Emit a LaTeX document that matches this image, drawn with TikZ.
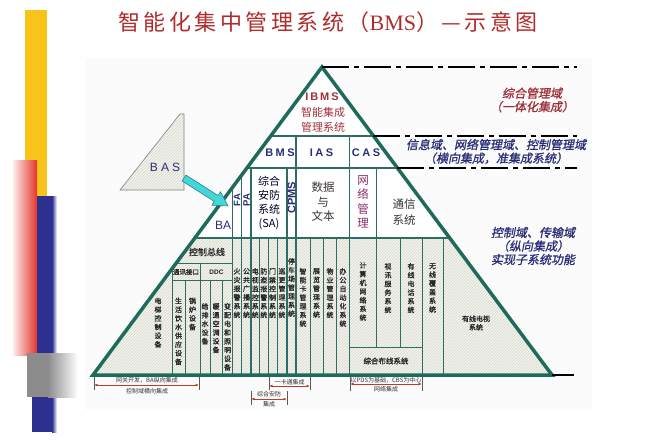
\documentclass[tikz,border=0pt]{standalone}
\usepackage{fontspec}
\setmainfont{Liberation Sans}
\newfontfamily\cjk{Noto Sans CJK SC}
\newfontfamily\cjkbf[FakeBold=1]{Noto Sans CJK SC}
\newfontfamily\cjkit[FakeSlant=0.2,FakeBold=1]{Noto Sans CJK SC}
\newfontfamily\serifL{Liberation Serif}
\usetikzlibrary{arrows.meta,calc,patterns}
\definecolor{pyrc}{HTML}{1E6B5C}
\definecolor{gridc}{HTML}{2E6E62}
\definecolor{txtc}{HTML}{262626}
\definecolor{navyc}{HTML}{2A2D78}
\definecolor{maroonc}{HTML}{A0303A}
\definecolor{titlec}{HTML}{B02C2C}
\definecolor{arrc}{HTML}{C0392B}
\definecolor{yellowc}{HTML}{F8C41A}
\definecolor{redc}{HTML}{E3352B}
\definecolor{bluec}{HTML}{2E3090}
\definecolor{hatchbg}{HTML}{F4F4EE}
\definecolor{hatchc}{HTML}{D6D6CC}
\definecolor{cyanc}{HTML}{46D6D8}
\definecolor{cyandk}{HTML}{1F8A8C}
\definecolor{purplec}{HTML}{8A2E6A}
\newcommand\tsp{\kern3.5pt}
\begin{document}
\begin{tikzpicture}[x=1pt,y=-1pt,
  pyr/.style={draw=pyrc,line width=3.5pt,line join=miter},
  hline/.style={draw=gridc,line width=1.6pt},
  vline/.style={draw=gridc,line width=1.1pt},
  fine/.style={draw=gridc,line width=0.9pt},
  vt/.style={font=\cjkbf\fontsize{7}{8.7}\selectfont,align=center,inner sep=0pt,anchor=north,text=txtc},
  ht/.style={font=\cjkbf\fontsize{7}{8.5}\selectfont,align=center,inner sep=0pt,text=txtc},
  mid/.style={font=\cjk\fontsize{11}{14}\selectfont,align=center,inner sep=0pt},
  lat/.style={font=\bfseries\fontsize{11}{13}\selectfont,inner sep=0pt,text=navyc},
  dom/.style={font=\cjkit\fontsize{12}{13.5}\selectfont,align=center,inner sep=0pt},
  domline/.style={draw=black,line width=1.4pt,dash pattern=on 27pt off 5pt on 5pt off 5pt},
  annot/.style={font=\cjk\fontsize{6}{7}\selectfont,inner sep=0pt,text=black!80},
  dim/.style={draw=arrc,line width=0.6pt,{Latex[length=3.5pt,width=2.6pt]}-{Latex[length=3.5pt,width=2.6pt]}},
  tick/.style={draw=black!65,line width=0.6pt}]
\useasboundingbox (0,0) rectangle (660,439);
\fill[white] (0,0) rectangle (660,439);
\fill[black!1.5] (85,58) rectangle (592,410);
% left decorative bars
\fill[yellowc] (25,10) rectangle (47,196);
\shade[left color=red!8,right color=redc] (13,160) rectangle (37,355);
\fill[bluec] (37,196) rectangle (52,432);
\fill[bluec] (32,397) rectangle (52,432);
\shade[left color=bluec,right color=white] (52,196) rectangle (57,432);
\fill[black!45] (27,353) rectangle (48,397);
\shade[left color=black!45,right color=white] (48,353) rectangle (78,397);
% title
\node[font=\cjk\fontsize{22}{24}\selectfont,text=titlec,inner sep=0pt] (title) at (328,22)
  {智\tsp 能\tsp 化\tsp 集\tsp 中\tsp 管\tsp 理\tsp 系\tsp 统\tsp （{\serifL BMS}）\tsp —\tsp 示\tsp 意\tsp 图};
% pyramid
\coordinate (apex) at (322,67);
\coordinate (bl) at (93,375);
\coordinate (br) at (552,375);
\fill[white] (apex)--(bl)--(br)--cycle;
\begin{scope}
  \clip (apex)--(bl)--(br)--cycle;
  \fill[hatchbg] (80,238) rectangle (600,376);
  \fill[pattern=north east lines,pattern color=hatchc] (80,238) rectangle (600,376);
  \draw[hline] (80,136) -- (600,136);
  \draw[hline] (80,168) -- (600,168);
  \draw[hline] (80,238) -- (600,238);
  \draw[fine] (80,263) -- (233,263);
  \draw[fine] (172,280) -- (233,280);
  \draw[fine] (349.5,347) -- (422,347);
  \draw[vline] (296,136) -- (296,375);
  \draw[vline] (349.5,136) -- (349.5,375);
  \foreach \x in {232.5,241.5,251,287} \draw[vline] (\x,168) -- (\x,375);
  \draw[vline] (376.5,168) -- (376.5,347);
  \foreach \x in {259.5,268,277,310,323,336.5,422,443} \draw[fine] (\x,238) -- (\x,375);
  \draw[fine] (400,238) -- (400,347);
  \draw[fine] (172,255) -- (172,375);
  \draw[fine] (200,263) -- (200,375);
  \foreach \x in {185,210,222} \draw[fine] (\x,280) -- (\x,375);
\end{scope}
\draw[pyr] (apex)--(bl)--(br)--cycle;
% right domain lines
\coordinate (e1) at (577,67);
\coordinate (s2) at (373.4,136);
\coordinate (e2) at (577,136);
\coordinate (s3) at (397.3,168);
\coordinate (e3) at (577,168);
\coordinate (e4) at (574,375);
\draw[domline] (apex) -- (e1);
\draw[domline] (s2) -- (e2);
\draw[domline] (s3) -- (e3);
\draw[black,line width=1.2pt] (br) -- (e4);
% top
\node[font=\bfseries\fontsize{11}{13}\selectfont,text=maroonc,inner sep=0pt] (ibms) at (322,97) {I\kern2pt B\kern2pt M\kern2pt S};
\node[font=\cjk\fontsize{11}{15}\selectfont,text=maroonc,align=center,inner sep=0pt] (ibmscn) at (323,120) {智能集成\\管理系统};
\node[lat] (bms) at (280,153) {B\kern2.5pt M\kern2.5pt S};
\node[lat] (ias) at (321.5,153) {I\kern2.5pt A\kern2.5pt S};
\node[lat] (cas) at (366,153) {C\kern2.5pt A\kern2.5pt S};
% middle
\node[font=\fontsize{12}{13}\selectfont,text=navyc,inner sep=0pt] (ba) at (223,225) {BA};
\node[font=\bfseries\fontsize{9.5}{11}\selectfont,text=navyc,inner sep=0pt,rotate=90] (fa) at (237,200) {FA};
\node[font=\bfseries\fontsize{9.5}{11}\selectfont,text=navyc,inner sep=0pt,rotate=90] (pa) at (246.5,200) {PA};
\node[mid,text=black!75!blue!60!black] (sa) at (269,202.5) {综合\\安防\\系统\\(SA)};
\node[font=\bfseries\fontsize{11}{13}\selectfont,text=navyc,inner sep=0pt,rotate=90] (cpms) at (291.5,198) {CPMS};
\node[mid,font=\cjk\fontsize{11.5}{14.5}\selectfont,text=black!70!magenta!40!black] (data) at (323,202) {数据\\与\\文本};
\node[mid,font=\cjk\fontsize{11.5}{14.5}\selectfont,text=purplec] (netm) at (363,202) {网\\络\\管\\理};
\node[mid,font=\cjk\fontsize{11.5}{16.5}\selectfont,text=black!80] (comm) at (404,212) {通信\\系统};
% bottom section
\node[font=\cjkbf\fontsize{9}{10}\selectfont,text=txtc,inner sep=0pt] (bus) at (207,252) {控制总线};
\node[ht,font=\cjkbf\fontsize{6.5}{8}\selectfont] (comif) at (186,272) {通讯接口};
\node[font=\bfseries\fontsize{6.5}{8}\selectfont,text=txtc,inner sep=0pt] (ddc) at (216.5,272) {DDC};
\node[vt] (c1) at (158,297.5) {电\\梯\\控\\制\\设\\备};
\node[vt] (c2) at (178.5,297.5) {生\\活\\饮\\水\\供\\应\\设\\备};
\node[vt] (c3) at (192.5,297.5) {锅\\炉\\设\\备};
\node[vt] (c4) at (205,303) {给\\排\\水\\设\\备};
\node[vt] (c5) at (216,303) {暖\\通\\空\\调\\设\\备};
\node[vt] (c6) at (227.5,303) {变\\配\\电\\和\\照\\明\\设\\备};
\node[vt] (c7) at (237,268) {火\\灾\\报\\警\\系\\统};
\node[vt] (c8) at (246.5,268) {公\\共\\广\\播\\系\\统};
\node[vt] (c9) at (255.3,268) {电\\视\\监\\控\\系\\统};
\node[vt] (c10) at (263.8,268) {防\\盗\\报\\警\\系\\统};
\node[vt] (c11) at (272.5,268) {门\\禁\\控\\制\\系\\统};
\node[vt] (c12) at (282,268) {巡\\更\\管\\理\\系\\统};
\node[vt] (c13) at (291.5,258) {停\\车\\场\\管\\理\\系\\统};
\node[vt] (c14) at (303,268) {智\\能\\卡\\管\\理\\系\\统};
\node[vt] (c15) at (316.5,268) {展\\览\\管\\理\\系\\统};
\node[vt] (c16) at (330,268) {物\\业\\管\\理\\系\\统};
\node[vt] (c17) at (343,268) {办\\公\\自\\动\\化\\系\\统};
\node[vt] (c18) at (363,262) {计\\算\\机\\网\\络\\系\\统};
\node[vt] (c19) at (388,263) {视\\讯\\服\\务\\系\\统};
\node[vt] (c20) at (411,263) {有\\线\\电\\话\\系\\统};
\node[vt] (c21) at (432.5,263) {无\\线\\覆\\盖\\系\\统};
\node[ht] (catv) at (476,323) {有线电视\\系统};
\node[ht,font=\cjkbf\fontsize{7.5}{9}\selectfont] (pds) at (386,361) {综合布线系统};
% right domain labels
\node[dom,text=maroonc] (d1) at (532,100) {综合管理域\\（一体化集成）};
\node[dom,text=navyc] (d2) at (496,151.5) {信息域、网络管理域、控制管理域\\（横向集成，准集成系统）};
\node[dom,text=navyc] (d3) at (533,246) {控制域、传输域\\（纵向集成）\\实现子系统功能};
% BAS triangle and arrow
\fill[hatchbg] (180,114) -- (184,114) -- (184,190) -- (120,190) -- cycle;
\fill[pattern=north east lines,pattern color=hatchc] (180,114) -- (184,114) -- (184,190) -- (120,190) -- cycle;
\draw[black!50,line width=0.6pt] (180,114) -- (184,114) -- (184,190) -- (120,190) -- cycle;
\node[font=\fontsize{12}{13}\selectfont,text=navyc,inner sep=0pt] (bas) at (165,167) {B\kern3pt A\kern3pt S};
\coordinate (arrS) at (184,178);
\coordinate (arrT) at (228,206);
\coordinate (arrB) at ($(arrT)!14pt!(arrS)$);
\filldraw[fill=cyanc,draw=cyandk,line width=0.6pt,line join=round]
  ($(arrS)!3.5pt!90:(arrT)$) -- ($(arrB)!3.5pt!90:(arrT)$) -- ($(arrB)!8pt!90:(arrT)$) -- (arrT)
  -- ($(arrB)!8pt!-90:(arrT)$) -- ($(arrB)!3.5pt!-90:(arrT)$) -- ($(arrS)!3.5pt!-90:(arrT)$) -- cycle;
% dimension annotations
\coordinate (a1t) at (94,377); \coordinate (a1b) at (94,390);
\coordinate (a2t) at (199,377); \coordinate (a2b) at (199,390);
\coordinate (a1) at (94,385); \coordinate (a2) at (199,385);
\draw[tick] (a1t) -- (a1b); \draw[tick] (a2t) -- (a2b);
\draw[dim] (a1) -- (a2);
\node[annot] (t1) at (147,380.5) {网关开发，BA纵向集成};
\node[annot] (t2) at (147,391.5) {控制域横向集成};
\coordinate (b1t) at (251,391); \coordinate (b1b) at (251,405);
\coordinate (b2t) at (287,391); \coordinate (b2b) at (287,405);
\coordinate (b1) at (251,399); \coordinate (b2) at (287,399);
\draw[tick] (b1t) -- (b1b); \draw[tick] (b2t) -- (b2b);
\draw[dim] (b1) -- (b2);
\node[annot] (t3) at (269,394.5) {综合安防};
\node[annot] (t4) at (269,404) {集成};
\coordinate (c1t) at (269,377); \coordinate (c1b) at (269,390);
\coordinate (c2t) at (310,377); \coordinate (c2b) at (310,390);
\coordinate (c1a) at (269,386); \coordinate (c2a) at (310,386);
\draw[tick] (c1t) -- (c1b); \draw[tick] (c2t) -- (c2b);
\draw[dim] (c1a) -- (c2a);
\node[annot] (t5) at (289.5,382.5) {一卡通集成};
\coordinate (n1t) at (350,377); \coordinate (n1b) at (350,391);
\coordinate (n2t) at (422,377); \coordinate (n2b) at (422,391);
\coordinate (n1) at (350,384); \coordinate (n2) at (422,384);
\draw[tick] (n1t) -- (n1b); \draw[tick] (n2t) -- (n2b);
\draw[dim] (n1) -- (n2);
\node[annot] (t6) at (386,380.5) {以PDS为基础，CBS为中心};
\node[annot] (t7) at (386,389.5) {网络集成};
\end{tikzpicture}
\end{document}
